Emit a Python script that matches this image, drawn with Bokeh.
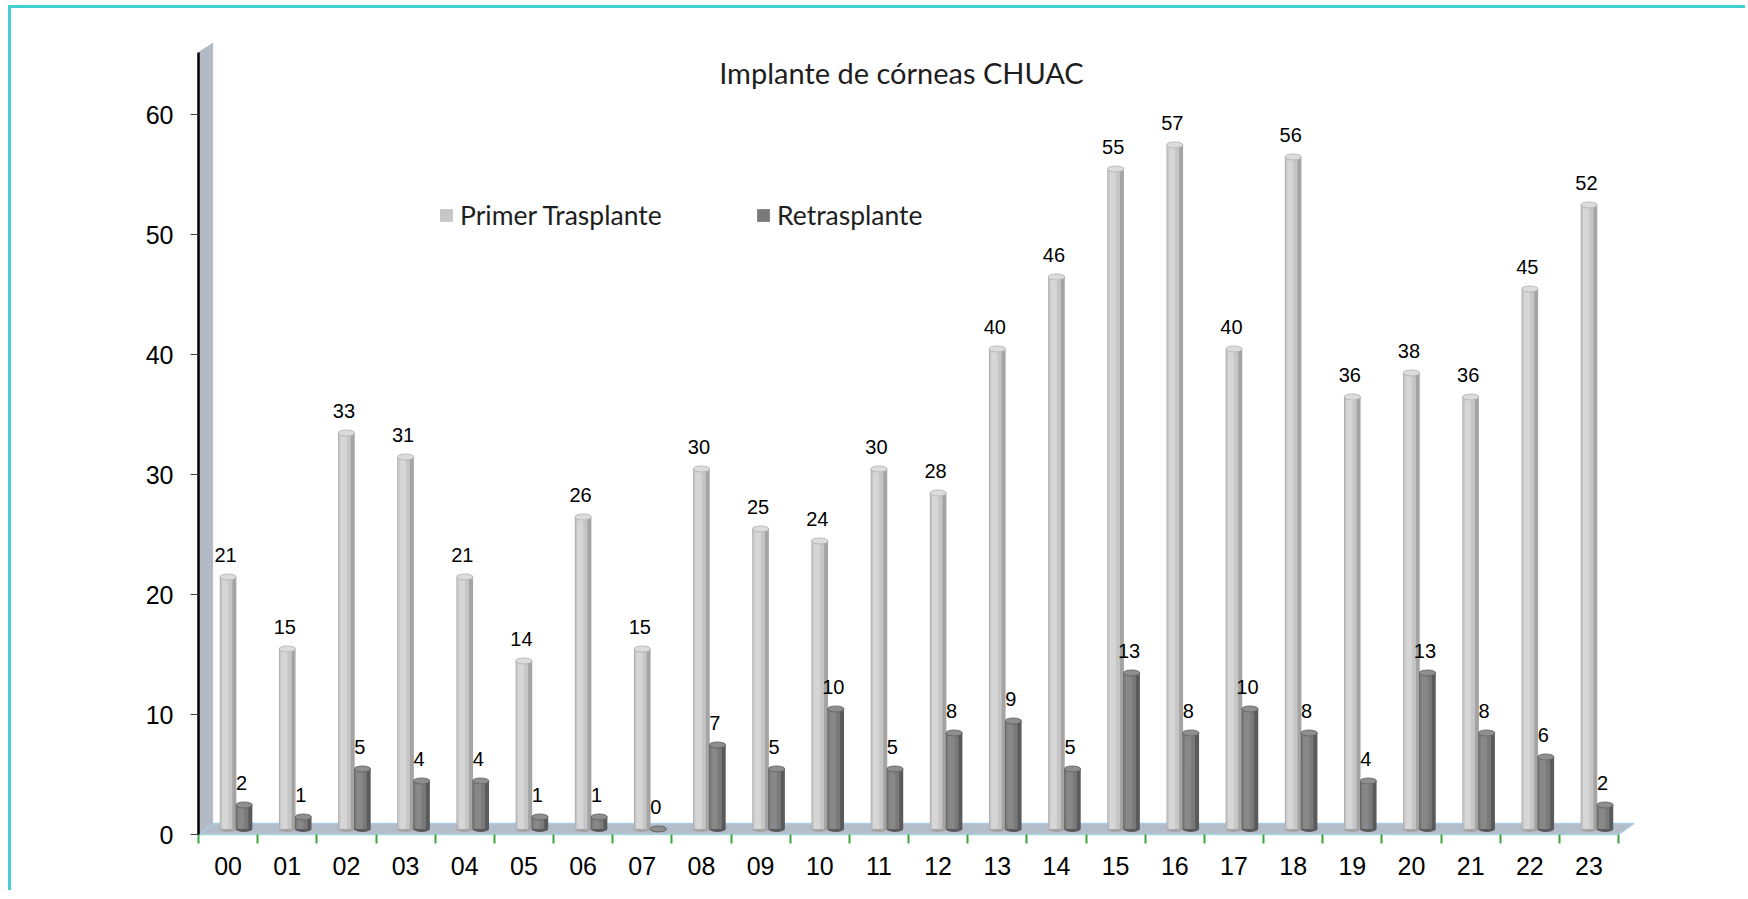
from bokeh.plotting import figure
from bokeh.models import FixedTicker, Label, Legend, LegendItem, Range1d
from bokeh.core.properties import value
from bokeh.embed import file_html
from bokeh.resources import INLINE

# ---------------- data ----------------
years = ["00", "01", "02", "03", "04", "05", "06", "07", "08", "09", "10", "11",
         "12", "13", "14", "15", "16", "17", "18", "19", "20", "21", "22", "23"]
primer = [21, 15, 33, 31, 21, 14, 26, 15, 30, 25, 24, 30,
          28, 40, 46, 55, 57, 40, 56, 36, 38, 36, 45, 52]
retras = [2, 1, 5, 4, 4, 1, 1, 0, 7, 5, 10, 5,
          8, 9, 5, 13, 8, 10, 8, 4, 13, 8, 6, 2]
y_ticks = [0, 10, 20, 30, 40, 50, 60]
series_names = ["Primer Trasplante", "Retrasplante"]
title_text = "Implante de córneas CHUAC"

# ---------------- geometry / style ----------------
N = len(years)
X_END = 24.455
Y_END = 66.0
AXIS_TOP = 65.2
FLOOR_DY = 0.92      # floor depth in y units
FLOOR_DX = 0.26      # floor depth in x units
BAR_BASE = FLOOR_DY / 2
BAR_W = 0.28
DODGE = [0.5, 0.77]

SHADES = {
    0: dict(base="#a4a4a4", mid="#c6c6c6", light="#d6d6d6", cap="#dcdcdc", capline="#b0b0b0"),
    1: dict(base="#5a5a5a", mid="#7a7a7a", light="#888888", cap="#8e8e8e", capline="#606060"),
}
LAYERS = [("base", 1.0, 0.0), ("mid", 0.72, -0.10), ("light", 0.38, -0.17)]

p = figure(width=1737, height=885, output_backend="svg", toolbar_location=None,
           x_range=Range1d(0, X_END), y_range=Range1d(0, Y_END),
           min_border_left=187, min_border_right=103, min_border_top=34, min_border_bottom=59)
p.outline_line_color = None
p.xgrid.visible = False
p.ygrid.visible = False
p.background_fill_color = "white"
p.border_fill_color = "white"
p.styles = {"border-top": "3px solid #40d0d0", "border-left": "3px solid #40d0d0",
            "margin-left": "8px", "margin-top": "5px"}

# back wall and floor
p.patch([0, 0, FLOOR_DX * 0.95, FLOOR_DX * 0.95], [0, AXIS_TOP, Y_END, FLOOR_DY],
        fill_color="#b4bac5", line_color=None)
p.patch([0, N, N + FLOOR_DX, FLOOR_DX], [0, 0, FLOOR_DY, FLOOR_DY],
        fill_color="#b3bdca", line_color="#a9cde6", line_width=1.5)

legend_renderers = []
for k, vals in enumerate([primer, retras]):
    sh = SHADES[k]
    xs = [i + DODGE[k] for i in range(N)]
    tops = [v + BAR_BASE for v in vals]
    p.ellipse(x=xs, y=[BAR_BASE] * N, width=16.5, height=6, width_units="screen",
              height_units="screen", fill_color=sh["base"], line_color=None)
    leg_r = None
    for name, wf, off in LAYERS:
        r = p.vbar(x=[x + off * BAR_W for x in xs], width=BAR_W * wf, bottom=BAR_BASE, top=tops,
                   fill_color=sh[name], line_color=None)
        if name == "mid":
            leg_r = r
    legend_renderers.append(leg_r)
    p.ellipse(x=xs, y=tops, width=16.5, height=6, width_units="screen", height_units="screen",
              fill_color=sh["cap"], line_color=sh["capline"], line_width=0.8)
    p.text(x=xs, y=tops, text=[str(v) for v in vals], text_align="center",
           text_baseline="alphabetic", x_offset=-2.5, y_offset=-22,
           text_font=value("Liberation Sans"), text_font_size="20px", text_color="black")

# axes
yax = p.yaxis[0]
yax.ticker = FixedTicker(ticks=y_ticks)
yax.bounds = (0, AXIS_TOP)
yax.axis_line_color = "black"
yax.axis_line_width = 2.5
yax.major_tick_out = 8
yax.major_tick_in = 0
yax.major_tick_line_color = "#404040"
yax.minor_tick_line_color = None
yax.major_label_text_font = "Liberation Sans"
yax.major_label_text_font_size = "25px"
yax.major_label_text_color = "black"
yax.major_label_standoff = 17

xax = p.xaxis[0]
centers = [i + 0.5 for i in range(N)]
xax.ticker = FixedTicker(ticks=centers, minor_ticks=list(range(N + 1)))
xax.major_label_overrides = {c: y for c, y in zip(centers, years)}
xax.bounds = (0, N)
xax.major_tick_out = 0
xax.major_tick_in = 0
xax.minor_tick_out = 9
xax.minor_tick_in = 0
xax.minor_tick_line_color = "#3aa83a"
xax.minor_tick_line_width = 2
xax.axis_line_color = "#a8d4dc"
xax.axis_line_width = 1.5
xax.major_label_text_font = "Liberation Sans"
xax.major_label_text_font_size = "25px"
xax.major_label_text_color = "black"
xax.major_label_standoff = 13

# title
p.add_layout(Label(x=11.88, y=63.5, text=title_text, text_align="center", text_baseline="middle",
                   text_font="Lato", text_font_size="29px", text_color="#1e1e1e"))

# legends
for r, name, loc in zip(legend_renderers, series_names, [(240, 603), (557, 603)]):
    leg = Legend(items=[LegendItem(label=name, renderers=[r])], location=loc,
                 orientation="horizontal", padding=0, margin=0, spacing=0,
                 border_line_color=None, background_fill_alpha=0,
                 glyph_width=16, glyph_height=16, label_height=16, label_standoff=6,
                 label_text_font="Lato", label_text_font_size="26.5px", label_text_color="#1e1e1e")
    p.add_layout(leg, "center")

open("out.html", "w").write(file_html(p, INLINE))
